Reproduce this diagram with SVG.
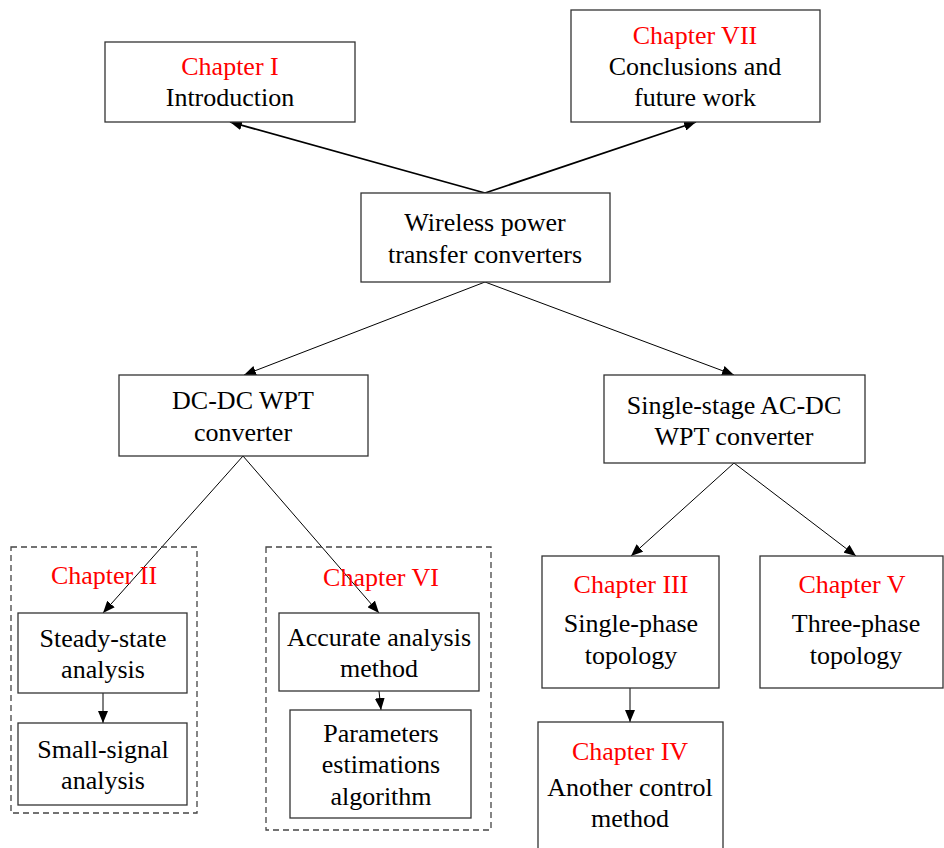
<svg xmlns="http://www.w3.org/2000/svg" width="944" height="848" viewBox="0 0 944 848">
<defs>
<marker id="ah" viewBox="0 0 12 10" refX="12" refY="5" markerWidth="12" markerHeight="10" markerUnits="userSpaceOnUse" orient="auto">
<path d="M0,0 L12,5 L0,10 Z" fill="#000"/>
</marker>
<style>
.box{fill:#fff;stroke:#333;stroke-width:1.3}
.dash{fill:none;stroke:#444;stroke-width:1.3;stroke-dasharray:6,4}
text{font-size:26px;text-anchor:middle;fill:#000}
.red{fill:#f00}
.c{stroke:#000;fill:none;stroke-width:1}
.t{stroke:#000;fill:none;stroke-width:1.8}
</style>
</defs>
<rect width="944" height="848" fill="#fff"/>
<g id="connectors">
<line class="t" x1="485" y1="193" x2="230" y2="122" marker-end="url(#ah)"/>
<line class="t" x1="485" y1="193" x2="696" y2="122" marker-end="url(#ah)"/>
<line class="c" x1="485" y1="282" x2="244" y2="375" marker-end="url(#ah)"/>
<line class="c" x1="485" y1="282" x2="734" y2="375" marker-end="url(#ah)"/>
<line class="c" x1="243" y1="456" x2="103" y2="613" marker-end="url(#ah)"/>
<line class="c" x1="243" y1="456" x2="379" y2="613" marker-end="url(#ah)"/>
<line class="c" x1="103" y1="693" x2="103" y2="723" marker-end="url(#ah)"/>
<line class="c" x1="379" y1="691" x2="381" y2="710" marker-end="url(#ah)"/>
<line class="c" x1="734" y1="463" x2="631" y2="556" marker-end="url(#ah)"/>
<line class="c" x1="734" y1="463" x2="856" y2="556" marker-end="url(#ah)"/>
<line class="c" x1="630" y1="688" x2="630" y2="722" marker-end="url(#ah)"/>
</g>
<g font-family="'Liberation Serif', 'DejaVu Serif', serif">
<g id="ch1">
<rect class="box" x="105" y="42" width="250" height="80"/>
<text class="red" x="230" y="75">Chapter I</text>
<text x="230" y="106">Introduction</text>
</g>
<g id="ch7">
<rect class="box" x="571" y="10" width="249" height="112"/>
<text class="red" x="695" y="44">Chapter VII</text>
<text x="695" y="75">Conclusions and</text>
<text x="695" y="106">future work</text>
</g>
<g id="wpt">
<rect class="box" x="361" y="193" width="249" height="89"/>
<text x="485" y="231">Wireless power</text>
<text x="485" y="263">transfer converters</text>
</g>
<g id="dcdc">
<rect class="box" x="119" y="375" width="249" height="81"/>
<text x="243" y="409">DC-DC WPT</text>
<text x="243" y="441">converter</text>
</g>
<g id="acdc">
<rect class="box" x="604" y="375" width="261" height="88"/>
<text x="734" y="414">Single-stage AC-DC</text>
<text x="734" y="445">WPT converter</text>
</g>
<g id="ch2">
<rect class="dash" x="11" y="547" width="186" height="266"/>
<text class="red" x="104" y="584">Chapter II</text>
</g>
<g id="steady">
<rect class="box" x="18" y="613" width="169" height="80"/>
<text x="103" y="647">Steady-state</text>
<text x="103" y="678">analysis</text>
</g>
<g id="small">
<rect class="box" x="18" y="723" width="169" height="82"/>
<text x="103" y="758">Small-signal</text>
<text x="103" y="789">analysis</text>
</g>
<g id="ch6">
<rect class="dash" x="266" y="547" width="225" height="283"/>
<text class="red" x="381" y="586">Chapter VI</text>
</g>
<g id="accurate">
<rect class="box" x="279" y="613" width="200" height="78"/>
<text x="379" y="646">Accurate analysis</text>
<text x="379" y="677">method</text>
</g>
<g id="params">
<rect class="box" x="290" y="710" width="181" height="108"/>
<text x="381" y="742">Parameters</text>
<text x="381" y="773">estimations</text>
<text x="381" y="805">algorithm</text>
</g>
<g id="ch3">
<rect class="box" x="542" y="556" width="177" height="132"/>
<text class="red" x="631" y="593">Chapter III</text>
<text x="631" y="632">Single-phase</text>
<text x="631" y="664">topology</text>
</g>
<g id="ch5">
<rect class="box" x="760" y="556" width="183" height="132"/>
<text class="red" x="852" y="593">Chapter V</text>
<text x="856" y="632">Three-phase</text>
<text x="856" y="664">topology</text>
</g>
<g id="ch4">
<rect class="box" x="538" y="722" width="185" height="140"/>
<text class="red" x="630" y="760">Chapter IV</text>
<text x="630" y="796">Another control</text>
<text x="630" y="827">method</text>
</g>
</g>
</svg>
